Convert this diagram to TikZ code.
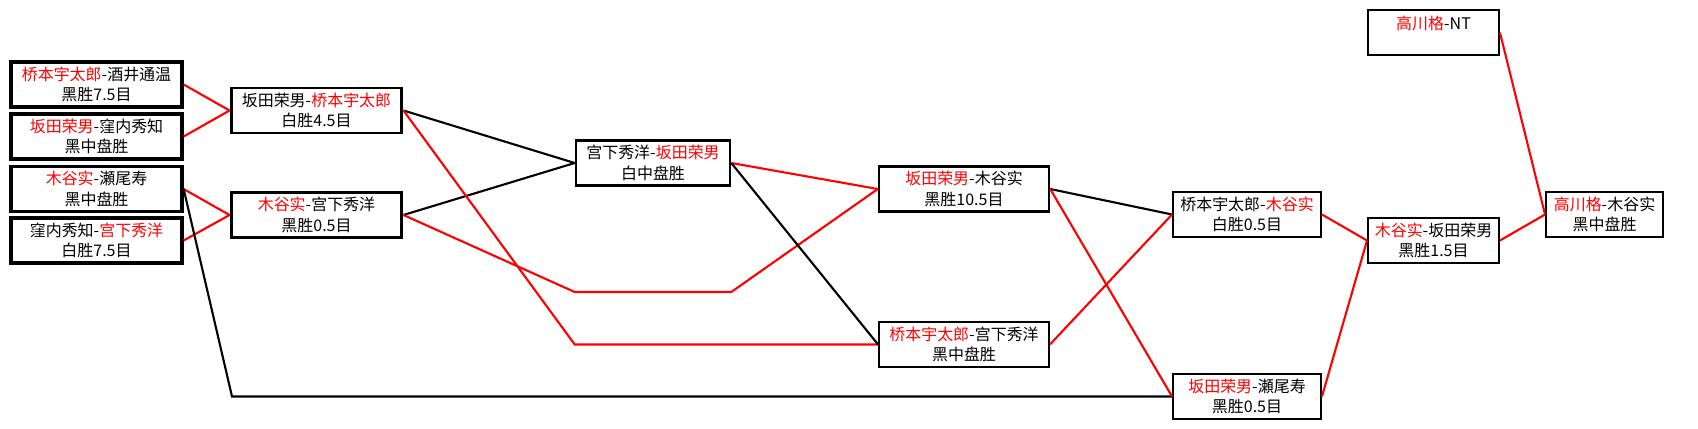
\documentclass[tikz,border=0pt]{standalone}
\usepackage{fontspec}
\setmainfont{Noto Sans CJK SC}
\newcommand{\winner}[1]{\textcolor{red}{#1}}
\begin{document}
\begin{tikzpicture}[x=0.02cm,y=-0.02cm,
  game/.style={draw,line width=1.1pt,fill=white,minimum height=0.9cm,inner sep=0pt,
    align=center,font=\fontsize{9.1}{11.6}\selectfont},
  won/.style={draw=red,line width=1.2pt},
  lost/.style={draw=black,line width=1.2pt}]

\useasboundingbox[fill=white] (0,0) rectangle (1698,429);

% first round
\node[game,line width=1.9pt,minimum width=3.42cm] (a1) at (96.5,84.5) {\winner{桥本宇太郎}-酒井通温\\黑胜7.5目};
\node[game,line width=1.9pt,minimum width=3.42cm] (a2) at (96.5,136.5) {\winner{坂田荣男}-窪内秀知\\黑中盘胜};
\node[game,line width=1.9pt,minimum width=3.42cm] (a3) at (96.5,189) {\winner{木谷实}-瀬尾寿\\黑中盘胜};
\node[game,line width=1.9pt,minimum width=3.42cm] (a4) at (96.5,240.5) {窪内秀知-\winner{宫下秀洋}\\白胜7.5目};

\node[game,line width=1.7pt,minimum width=3.42cm] (b1) at (316.5,110.5) {坂田荣男-\winner{桥本宇太郎}\\白胜4.5目};
\node[game,line width=1.7pt,minimum width=3.42cm] (b2) at (316.5,215) {\winner{木谷实}-宫下秀洋\\黑胜0.5目};

\node[game,line width=1.5pt,minimum width=3.08cm] (c1) at (653,163) {宫下秀洋-\winner{坂田荣男}\\白中盘胜};
\node[game,line width=1.4pt,minimum width=3.4cm] (c2) at (964,189) {\winner{坂田荣男}-木谷实\\黑胜10.5目};
\node[game,minimum width=3.4cm] (c3) at (964,344.5) {\winner{桥本宇太郎}-宫下秀洋\\黑中盘胜};

\node[game,minimum width=2.96cm] (d1) at (1247,214.5) {桥本宇太郎-\winner{木谷实}\\白胜0.5目};
\node[game,minimum width=2.96cm] (d2) at (1247,396.5) {\winner{坂田荣男}-瀬尾寿\\黑胜0.5目};

\node[game,minimum width=2.62cm] (e1) at (1433.5,240.5) {\winner{木谷实}-坂田荣男\\黑胜1.5目};
\node[game,minimum width=2.62cm] (f0) at (1433.5,32.5) {\winner{高川格}-NT\\\mbox{}};
\node[game,minimum width=2.34cm] (f1) at (1604.5,214.5) {\winner{高川格}-木谷实\\黑中盘胜};

\coordinate (bye) at (232,0);
\coordinate (skip) at (653,292);

\draw[won] (a1.east) -- (b1.west);
\draw[won] (a2.east) -- (b1.west);
\draw[won] (a3.east) -- (b2.west);
\draw[won] (a4.east) -- (b2.west);
\draw[lost] (a3.east) -- (bye |- d2.west) -- (d2.west);

\draw[lost] (b1.east) -- (c1.west);
\draw[lost] (b2.east) -- (c1.west);
\draw[won] (b1.east) -- (c1.west |- c3.west) -- (c3.west);
\draw[won] (b2.east) -- (c1.west |- skip) -- (c1.east |- skip) -- (c2.west);

\draw[won] (c1.east) -- (c2.west);
\draw[lost] (c1.east) -- (c3.west);
\draw[lost] (c2.east) -- (d1.west);
\draw[won] (c2.east) -- (d2.west);
\draw[won] (c3.east) -- (d1.west);

\draw[won] (d1.east) -- (e1.west);
\draw[won] (d2.east) -- (e1.west);
\draw[won] (e1.east) -- (f1.west);
\draw[won] (f0.east) -- (f1.west);

\end{tikzpicture}
\end{document}
